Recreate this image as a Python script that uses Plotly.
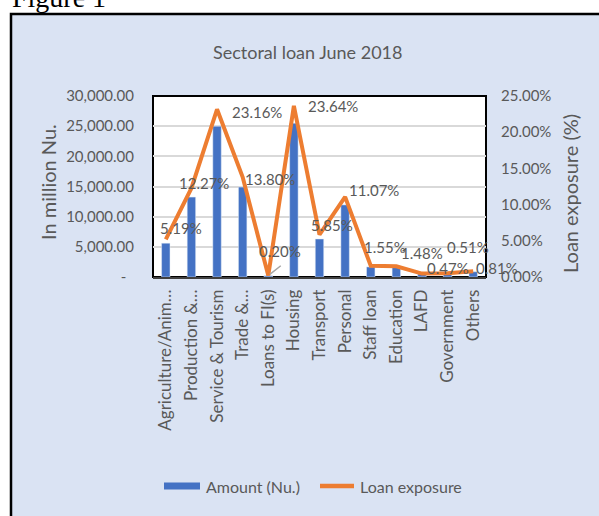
import plotly.graph_objects as go

categories = ["Agriculture/Anim…", "Production &…", "Service & Tourism", "Trade &…",
              "Loans to FI(s)", "Housing", "Transport", "Personal", "Staff loan",
              "Education", "LAFD", "Government", "Others"]
amount = [5600, 13250, 25000, 14900, 220, 25500, 6300, 11950, 1670, 1600, 510, 550, 875]
exposure = [0.0519, 0.1227, 0.2316, 0.1380, 0.0020, 0.2364, 0.0585, 0.1107, 0.0155,
            0.0148, 0.0047, 0.0051, 0.0081]
left_ticks = [0, 5000, 10000, 15000, 20000, 25000, 30000]
left_ticktext = ["-\u00a0\u00a0", "5,000.00", "10,000.00", "15,000.00", "20,000.00", "25,000.00", "30,000.00"]
right_ticks = [0, 0.05, 0.10, 0.15, 0.20, 0.25]
right_ticktext = ["0.00%", "5.00%", "10.00%", "15.00%", "20.00%", "25.00%"]

# label offsets (pixels) for the line data labels
label_dx = [15, 13, 40, 27, 12, 39, 12, 29, 14, 26, 26, 20, 24]
label_dy = [11, 5, -3, -2, 25, 0, 10, 7, 19, 13, 6, 26, 3]

BLUE = "#4472C4"
ORANGE = "#ED7D31"
TXT = "#595959"
BG = "#DAE3F3"
FONT = "Lato"

W, H = 599, 516
L, R, T, B = 153, 113, 96, 239
pw, ph = W - L - R, H - T - B


def px(x):
    return (x - L) / pw


def py(y):
    return (H - B - y) / ph


fig = go.Figure()
fig.add_trace(go.Bar(x=categories, y=amount, name="Amount (Nu.)", marker_color=BLUE,
                     width=0.33, showlegend=False))
fig.add_trace(go.Scatter(x=categories, y=exposure, name="Loan exposure", yaxis="y2",
                         mode="lines", line=dict(color=ORANGE, width=4), showlegend=False))

ann = []
for c, v, dx, dy in zip(categories, exposure, label_dx, label_dy):
    ann.append(dict(x=c, y=v, xref="x", yref="y2", text=f"{v*100:.2f}%", showarrow=False,
                    xshift=dx, yshift=dy, font=dict(family=FONT, size=15, color=TXT)))

# small leader line for 0.20% label
ann.append(dict(x=categories[4], y=exposure[4], xref="x", yref="y2", ax=14, ay=-11,
                axref="pixel", ayref="pixel", showarrow=True, arrowhead=0, arrowwidth=1.5,
                arrowcolor="#A6A6A6", text="", standoff=2))


def txt(x, y, s, size, angle=0, xa="center", ya="middle", fam=FONT, col=TXT):
    return dict(x=px(x), y=py(y), xref="paper", yref="paper", text=s, textangle=angle,
                xanchor=xa, yanchor=ya, showarrow=False,
                font=dict(family=fam, size=size, color=col))


ann.append(txt(307, 52, "Sectoral loan June 2018", 18))
ann.append(txt(48, 182, "In million Nu.", 20, angle=-90))
ann.append(txt(570, 194, "Loan exposure (%)", 20, angle=-90))
ann.append(txt(10, 15, "Figure 1", 28, xa="left", ya="bottom", fam="Liberation Serif", col="#000000"))
ann.append(txt(204, 486, "Amount (Nu.)", 16, xa="left"))
ann.append(txt(358, 486, "Loan exposure", 16, xa="left"))

shapes = [
    dict(type="rect", xref="paper", yref="paper", x0=px(11), x1=px(640), y0=py(600), y1=py(14),
         fillcolor=BG, line=dict(color="#000000", width=2.5), layer="below"),
    dict(type="rect", xref="paper", yref="paper", x0=0, x1=1, y0=0, y1=1,
         fillcolor="#FFFFFF", line=dict(color="#000000", width=2), layer="below"),
    dict(type="rect", xref="paper", yref="paper", x0=px(164), x1=px(200), y0=py(489.5), y1=py(482.5),
         fillcolor=BLUE, line=dict(width=0)),
    dict(type="line", xref="paper", yref="paper", x0=px(320), x1=px(354), y0=py(486), y1=py(486),
         line=dict(color=ORANGE, width=4.5)),
]

fig.update_layout(
    width=W, height=H,
    margin=dict(l=L, r=R, t=T, b=B),
    paper_bgcolor="#FFFFFF",
    plot_bgcolor="#FFFFFF",
    font=dict(family=FONT, color=TXT),
    xaxis=dict(type="category", tickangle=-90, tickfont=dict(family=FONT, size=17, color=TXT),
               showgrid=False, showline=True, linecolor="#404040", linewidth=1.5,
               ticks="", ticklabelstandoff=4, range=[-0.5, 12.5]),
    yaxis=dict(range=[0, 30000], tickvals=left_ticks, ticktext=left_ticktext,
               tickfont=dict(family=FONT, size=15, color=TXT), showgrid=True,
               gridcolor="#D9D9D9", gridwidth=1.5, zeroline=False, ticks="",
               ticklabelstandoff=18, showline=False),
    yaxis2=dict(range=[0, 0.25], tickvals=right_ticks, ticktext=right_ticktext, overlaying="y",
                side="right", tickfont=dict(family=FONT, size=15, color=TXT), showgrid=False,
                zeroline=False, ticks="", ticklabelstandoff=14, showline=False),
    annotations=ann,
    shapes=shapes,
)

fig.write_html("out.html")
